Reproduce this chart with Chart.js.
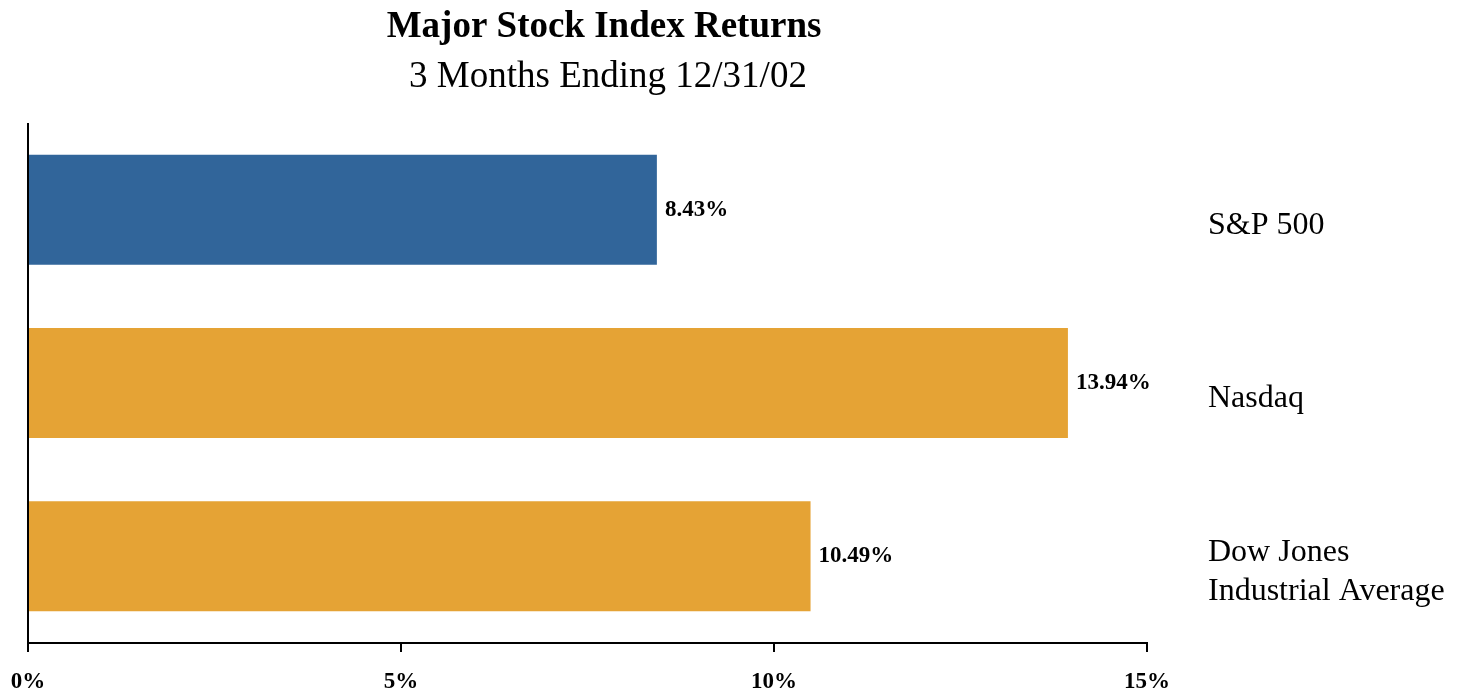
<!DOCTYPE html>
<html>
<head>
<meta charset="utf-8">
<script src="https://cdn.jsdelivr.net/npm/chart.js@4/dist/chart.umd.min.js"></script>
<style>
  html, body { margin: 0; padding: 0; background: #fff; }
  #wrap { width: 1458px; height: 691px; }
</style>
</head>
<body>
<div id="wrap"><canvas id="indexChart"></canvas></div>
<script>
// Major stock index returns, 3 months ending 12/31/02
const indexNames = [["S&P 500"], ["Nasdaq"], ["Dow Jones", "Industrial Average"]];
const indexReturns = [8.43, 13.94, 10.49];
const barColors = ["#31659a", "#e5a335", "#e5a335"];
const tickValues = [0, 5, 10, 15];

const titleText = "Major Stock Index Returns";
const subtitleText = "3 Months Ending 12/31/02";
const serif = "'Liberation Serif', 'Times New Roman', serif";

// titles, value labels and the index names on the right
const annotate = {
  id: "annotate",
  afterDatasetsDraw(chart) {
    const { ctx, scales } = chart;
    const xs = scales.x, ys = scales.y;
    ctx.save();
    ctx.fillStyle = "#000";

    ctx.textAlign = "center";
    ctx.textBaseline = "alphabetic";
    ctx.font = "bold 37px " + serif;
    ctx.fillText(titleText, 604, 37);
    ctx.font = "37px " + serif;
    ctx.fillText(subtitleText, 608, 87);

    ctx.textAlign = "left";
    ctx.textBaseline = "middle";
    ctx.font = "bold 23px " + serif;
    indexReturns.forEach((v, i) => {
      ctx.fillText(v.toFixed(2) + "%", xs.getPixelForValue(v) + 8, ys.getPixelForValue(i));
    });

    ctx.font = "32px " + serif;
    indexNames.forEach((lines, i) => {
      const cy = ys.getPixelForValue(i) + 16;
      const lh = 39;
      lines.forEach((t, k) => {
        ctx.fillText(t, 1208, cy + (k - (lines.length - 1) / 2) * lh);
      });
    });
    ctx.restore();
  }
};

new Chart(document.getElementById("indexChart").getContext("2d"), {
  type: "bar",
  data: {
    labels: indexNames,
    datasets: [{
      data: indexReturns,
      backgroundColor: barColors,
      borderWidth: 0,
      categoryPercentage: 1,
      barPercentage: 0.635
    }]
  },
  options: {
    indexAxis: "y",
    responsive: true,
    maintainAspectRatio: false,
    animation: false,
    layout: { padding: { left: 28, right: 311, top: 123, bottom: 0 } },
    plugins: {
      legend: { display: false },
      title: { display: false },
      tooltip: { enabled: false }
    },
    scales: {
      x: {
        min: 0,
        max: 15,
        z: 1,
        afterBuildTicks(axis) {
          axis.ticks = tickValues.map(v => ({ value: v }));
        },
        afterFit(axis) {
          axis.height = 48;
          axis.paddingLeft = 0;
          axis.paddingRight = 0;
        },
        border: { display: true, color: "#000", width: 2 },
        grid: {
          drawOnChartArea: true,
          color: c => (c.tick && c.tick.value === 0 ? "#000" : "rgba(0,0,0,0)"),
          lineWidth: 2,
          tickColor: "#000",
          tickLength: 9
        },
        ticks: {
          padding: 16,
          color: "#000",
          maxRotation: 0,
          font: { family: serif, size: 23, weight: "bold" },
          callback: v => v + "%"
        }
      },
      y: {
        display: false,
        offset: true
      }
    }
  },
  plugins: [annotate]
});
</script>
</body>
</html>
